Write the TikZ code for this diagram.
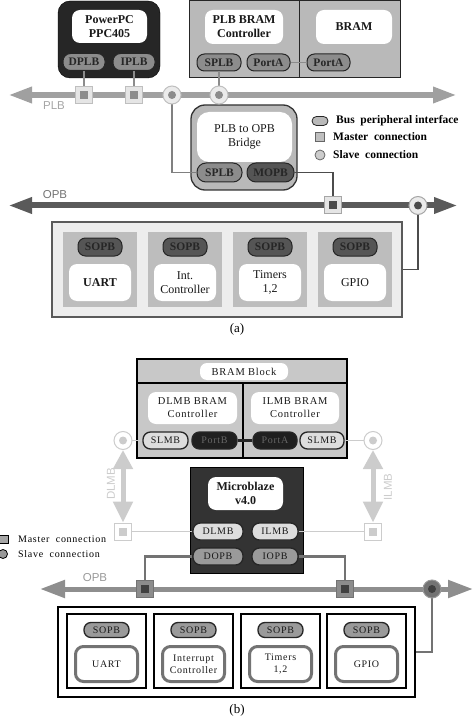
\documentclass[tikz,border=0pt]{standalone}
\usepackage{fontspec}
\setmainfont{Liberation Serif}
\newfontfamily\busfont{Liberation Sans}
\newfontfamily\spfont[LetterSpace=7]{Liberation Serif}
\usetikzlibrary{arrows.meta}
\pgfdeclarelayer{front}
\pgfsetlayers{main,front}
\definecolor{ppcdark}{HTML}{262626}
\definecolor{blockA}{HTML}{B9B9B9}
\definecolor{pillA}{HTML}{8C8C8C}
\definecolor{pillD}{HTML}{555555}
\definecolor{plbbus}{HTML}{A0A0A0}
\definecolor{opbbusA}{HTML}{5A5A5A}
\definecolor{cellA}{HTML}{BDBDBD}
\definecolor{contA}{HTML}{EDEDED}
\definecolor{blockB}{HTML}{C8C8C8}
\definecolor{lightB}{HTML}{DDDDDD}
\definecolor{lmbgrey}{HTML}{CCCCCC}
\definecolor{opbbusB}{HTML}{8E8E8E}
\definecolor{midB}{HTML}{9A9A9A}
\newcommand\mconn[5]{\node[msq,fill=#3,draw=#4] (#1) at (#2) {};
  \fill[#5] ([shift={(-4,-4)}]#1.center) rectangle ([shift={(4,4)}]#1.center);}
\newcommand\sconn[5]{\node[slv,fill=#3,draw=#4] (#1) at (#2) {};
  \fill[#5] (#1.center) circle (4pt);}
\begin{document}
\begin{tikzpicture}[x=1pt,y=-1pt,
  every node/.style={inner sep=0pt},
  pill/.style={draw=black!85, line width=1pt, rounded corners=7.5pt, minimum height=17pt},
  wbox/.style={fill=white, rounded corners=8pt, align=center},
  msq/.style={rectangle, minimum size=17pt, line width=1pt},
  slv/.style={circle, minimum size=18pt, line width=1pt},
  afont/.style={font=\fontsize{12}{14}\selectfont\bfseries, text=black!90},
  arfont/.style={font=\fontsize{12}{14}\selectfont, text=black!90},
  pfont/.style={font=\fontsize{11.5}{12}\selectfont\bfseries, text=black!85},
  bfont/.style={font=\fontsize{10.5}{13}\spfont, text=black!90},
  bpfont/.style={font=\fontsize{10}{12}\spfont, text=black!90},
  conn/.style={line width=1.6pt},
  bus/.style={line width=6pt, {Triangle[length=24pt,width=15pt]}-{Triangle[length=24pt,width=15pt]}},
  lbl/.style={font=\fontsize{11.5}{12}\busfont}
]
\useasboundingbox (0,0) rectangle (474,719);

%% ================= (a) =================
% PowerPC
\node[draw=black, fill=ppcdark, rounded corners=12pt, minimum width=102pt, minimum height=77pt] (ppc) at (109,39.5) {};
\node[wbox, afont, minimum width=75pt, minimum height=33pt] (ppcin) at (109.5,26.5) {PowerPC\\PPC405};
\node[pill, pfont, fill=pillA, minimum width=42pt] (dplb) at (84,62) {DPLB};
\node[pill, pfont, fill=pillA, minimum width=42pt] (iplb) at (134,62) {IPLB};

% PLB BRAM controller and BRAM
\node[draw=black!85, line width=1pt, fill=blockA, minimum width=110pt, minimum height=77pt] (plbbc) at (244,39.5) {};
\node[draw=black!85, line width=1pt, fill=blockA, minimum width=101pt, minimum height=77pt] (bram) at (349.5,39.5) {};
\node[wbox, afont, minimum width=78pt, minimum height=34pt] (bcin) at (244,27) {PLB BRAM\\Controller};
\node[wbox, afont, minimum width=76pt, minimum height=34pt] (bramin) at (354,27) {BRAM};
\node[pill, pfont, fill=pillA, minimum width=44pt] (splb1) at (219,62.5) {SPLB};
\node[pill, pfont, fill=pillA, minimum width=43pt] (portaA) at (268.5,62.5) {PortA};
\node[pill, pfont, fill=pillA, minimum width=43pt] (portaB) at (328.5,62.5) {PortA};

% Bridge
\node[draw=black!80, line width=1.3pt, fill=blockA, rounded corners=14pt, minimum width=106pt, minimum height=85pt] (bridge) at (244,147.5) {};
\node[wbox, arfont, rounded corners=12pt, minimum width=95pt, minimum height=50pt] (brin) at (244.5,137) {PLB to OPB\\Bridge};
\node[pill, pfont, fill=pillA, minimum width=45pt, minimum height=19pt, rounded corners=9pt] (splb2) at (219.5,172.5) {SPLB};
\node[pill, pfont, fill=pillD, minimum width=47pt, minimum height=19pt, rounded corners=9pt] (mopb) at (270.5,172.5) {MOPB};

% Peripheral container (a)
\node[draw=opbbusA, line width=2pt, fill=contA, minimum width=350pt, minimum height=95pt] (contA) at (227,269.5) {};
\foreach \n/\x/\t/\f in {ua/100/UART/afont, ic/185/{Int.\\Controller}/arfont, tm/270/{Timers\\1,2}/arfont, gp/355/GPIO/arfont}{
  \node[fill=cellA, minimum width=74pt, minimum height=75pt] (cell\n) at (\x,269.5) {};
  \node[pill, pfont, fill=pillD, minimum width=44pt, minimum height=18pt] (sopb\n) at (\x,247) {SOPB};
  \node[wbox, \f, minimum width=62pt, minimum height=37pt] (box\n) at (\x,282.5) {\t};
}
\node[font=\fontsize{13}{14}\selectfont] (capa) at (237,329) {(a)};

% connectors (a)
\begin{pgfonlayer}{front}
\mconn{m1}{84,95}{black!10}{black!25}{black!45}
\mconn{m2}{134,95}{black!10}{black!25}{black!45}
\sconn{s1}{172,95}{black!8}{black!25}{black!45}
\sconn{s2}{219,95}{black!8}{black!25}{black!45}
\mconn{m3}{333,205.5}{black!10}{black!35}{black!70}
\sconn{s3}{418,205.5}{black!8}{black!35}{black!70}
\end{pgfonlayer}

\coordinate (plbL) at (8,95);
\coordinate (plbR) at (457,95);
\draw[bus, draw=plbbus, fill=plbbus] (plbL) -- (plbR);
\coordinate (opbL) at (8,205.5);
\coordinate (opbR) at (458,205.5);
\draw[bus, draw=opbbusA, fill=opbbusA] (opbL) -- (opbR);
\node[lbl, text=black!35] (plblbl) at (54,106) {PLB};
\node[lbl, text=black!55] (opblblA) at (55,195) {OPB};

\draw[conn, draw=black!45] (dplb.south) -- (m1.center);
\draw[conn, draw=black!45] (iplb.south) -- (m2.center);
\draw[conn, draw=black!45] (splb1.south) -- (s2.center);
\draw[conn, draw=black!45] (portaA.east) -- (portaB.west);
\draw[conn, draw=black!50] (s1.center) |- (splb2.west);
\draw[conn, draw=black!70] (mopb.east) -| (m3.center);
\draw[conn, draw=black!70] (s3.center) |- (contA.east);

% legend (a)
\node[pill, fill=blockA, line width=0.8pt, minimum width=16pt, minimum height=9pt, rounded corners=4.5pt] (lgpill) at (320,121) {};
\node[anchor=west, font=\fontsize{11.5}{12}\selectfont\bfseries] (lgpillt) at (336,121) {Bus~ peripheral interface};
\node[draw=black!60, fill=black!25, line width=0.8pt, minimum size=9pt] (lgsq) at (320,137) {};
\node[anchor=west, font=\fontsize{11.5}{12}\selectfont\bfseries] (lgsqt) at (333,137) {Master~ connection};
\node[circle, draw=black!60, fill=black!20, line width=0.8pt, minimum size=10pt] (lgci) at (320,155) {};
\node[anchor=west, font=\fontsize{11.5}{12}\selectfont\bfseries] (lgcit) at (333,155) {Slave~ connection};

%% ================= (b) =================
\node[draw=black, line width=1.2pt, fill=blockB, minimum width=210pt, minimum height=99pt] (bramblk) at (242,408.5) {};
\coordinate (hdrL) at (137,383);
\coordinate (hdrR) at (347,383);
\draw[line width=1.2pt] (hdrL) -- (hdrR);
\coordinate (divT) at (243,383);
\coordinate (divB) at (243,458);
\draw[line width=1.2pt] (divT) -- (divB);
\node[wbox, bfont, rounded corners=7pt, minimum width=88pt, minimum height=17pt] (bbtitle) at (244,371.5) {BRAM Block};
\node[wbox, bfont, minimum width=89pt, minimum height=32pt] (dlmbin) at (192.5,408) {DLMB BRAM\\Controller};
\node[wbox, bfont, minimum width=88pt, minimum height=32pt] (ilmbin) at (295,408) {ILMB BRAM\\Controller};
\node[pill, bpfont, fill=lightB, line width=1.3pt, minimum width=45pt] (slmb1) at (165.5,440.5) {SLMB};
\node[pill, bpfont, fill=black!88, text=black!60, line width=1.3pt, minimum width=45pt] (portb) at (214.5,440.5) {PortB};
\node[pill, bpfont, fill=black!88, text=black!60, line width=1.3pt, minimum width=44pt] (porta) at (275,440.5) {PortA};
\node[pill, bpfont, fill=lightB, line width=1.3pt, minimum width=44pt] (slmb2) at (322,440.5) {SLMB};
\draw[line width=3pt, draw=black!85] (portb.east) -- (porta.west);

% Microblaze
\node[draw=black, line width=1pt, fill=black!80, minimum width=113pt, minimum height=106pt] (mb) at (246.5,520) {};
\node[wbox, afont, minimum width=75pt, minimum height=33pt] (mbin) at (245.5,493.5) {Microblaze\\v4.0};
\node[pill, bpfont, fill=lightB, line width=1.3pt, minimum width=50pt] (dlmb) at (218,531.5) {DLMB};
\node[pill, bpfont, fill=lightB, line width=1.3pt, minimum width=46pt] (ilmb) at (275,531.5) {ILMB};
\node[pill, bpfont, fill=midB, line width=1.3pt, minimum width=50pt] (dopb) at (218,556.5) {DOPB};
\node[pill, bpfont, fill=midB, line width=1.3pt, minimum width=46pt] (iopb) at (275,556.5) {IOPB};

% Peripheral container (b)
\node[draw=black, line width=1.3pt, fill=white, minimum width=357pt, minimum height=90pt] (contB) at (236.5,652) {};
\foreach \n/\x/\t in {ua/106.5/UART, ic/193.5/{Interrupt\\Controller}, tm/280.5/{Timers\\1,2}, gp/366.5/GPIO}{
  \node[draw=black, line width=1.2pt, fill=white, minimum width=79pt, minimum height=74pt] (cellB\n) at (\x,651) {};
  \node[pill, bpfont, fill=midB, line width=1.3pt, minimum width=45pt, minimum height=15pt, rounded corners=7pt] (sopbB\n) at (\x,630) {SOPB};
  \node[wbox, bpfont, draw=black!55, line width=3pt, minimum width=62pt, minimum height=35pt] (boxB\n) at (\x,664) {\t};
}
\node[font=\fontsize{13}{14}\selectfont] (capb) at (237,710) {(b)};

% connectors (b)
\begin{pgfonlayer}{front}
\sconn{s4}{123,440.5}{white}{lmbgrey}{lmbgrey}
\sconn{s5}{373,440.5}{white}{lmbgrey}{lmbgrey}
\mconn{m4}{123,531.5}{white}{lmbgrey}{lmbgrey}
\mconn{m5}{373,531.5}{white}{lmbgrey}{lmbgrey}
\mconn{m6}{145,589}{black!45}{black!55}{black!75}
\mconn{m7}{345,589}{black!45}{black!55}{black!75}
\sconn{s6}{432,589}{black!55}{black!40}{black!75}
\end{pgfonlayer}

\draw[conn, draw=lmbgrey] (slmb1.west) -- (s4.center);
\draw[conn, draw=lmbgrey] (slmb2.east) -- (s5.center);
\draw[conn, draw=lmbgrey] (dlmb.west) -- (m4.center);
\draw[conn, draw=lmbgrey] (ilmb.east) -- (m5.center);
\draw[line width=5pt, draw=lmbgrey, fill=lmbgrey, {Triangle[length=19pt,width=19pt]}-{Triangle[length=21pt,width=19pt]}] (s4.south) -- (m4.north);
\draw[line width=5pt, draw=lmbgrey, fill=lmbgrey, {Triangle[length=19pt,width=19pt]}-{Triangle[length=21pt,width=19pt]}] (s5.south) -- (m5.north);
\node[lbl, text=lmbgrey, rotate=90] (dlmblbl) at (111,484) {DLMB};
\node[lbl, text=lmbgrey, rotate=90] (ilmblbl) at (388,487) {ILMB};

\coordinate (opbBL) at (40,589);
\coordinate (opbBR) at (473,589);
\draw[line width=5pt, draw=opbbusB, fill=opbbusB, {Triangle[length=25pt,width=17pt]}-{Triangle[length=25pt,width=17pt]}] (opbBL) -- (opbBR);
\node[lbl, text=black!40] (opblblB) at (95,578) {OPB};
\draw[line width=2.5pt, draw=black!55] (dopb.west) -| (m6.center);
\draw[line width=2.5pt, draw=black!55] (iopb.east) -| (m7.center);
\draw[line width=2.5pt, draw=black!55] (s6.center) |- (contB.east);

% legend (b)
\node[draw=black, fill=black!35, line width=0.8pt, minimum width=11pt, minimum height=8pt] (lgsqB) at (3,539) {};
\node[anchor=west, font=\fontsize{10}{12}\spfont] (lgsqBt) at (18,539) {Master~ connection};
\node[circle, draw=black, fill=black!40, line width=0.8pt, minimum size=9pt] (lgciB) at (3,554) {};
\node[anchor=west, font=\fontsize{10}{12}\spfont] (lgciBt) at (18,554) {Slave~ connection};
\end{tikzpicture}
\end{document}
